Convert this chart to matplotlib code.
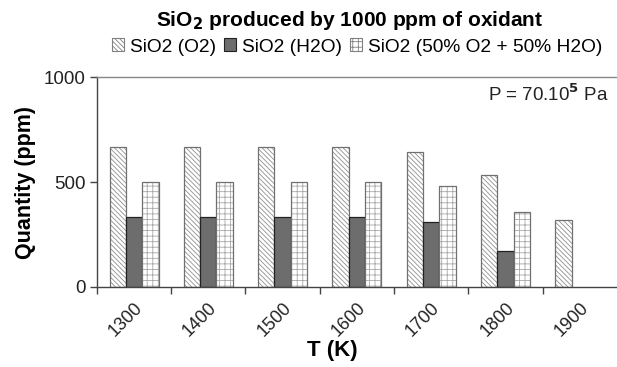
import matplotlib.pyplot as plt
import numpy as np

plt.rcParams['font.family'] = ['Liberation Sans', 'DejaVu Sans']
plt.rcParams['hatch.linewidth'] = 0.6

temps = ['1300', '1400', '1500', '1600', '1700', '1800', '1900']
sio2_o2 = [667, 667, 667, 667, 645, 533, 318]
sio2_h2o = [333, 333, 333, 331, 308, 172, np.nan]
sio2_mix = [500, 500, 500, 499, 479, 355, np.nan]
labels = ['SiO2 (O2)', 'SiO2 (H2O)', 'SiO2 (50% O2 + 50% H2O)']

fig = plt.figure(figsize=(6.17, 3.67), dpi=100)
ax = fig.add_axes([0.157, 0.219, 0.843, 0.570])

x = np.arange(len(temps))
w = 0.22

# hatched fill first, then outline on top
ax.bar(x - w, sio2_o2, w, color='white', edgecolor='#909090', hatch='\\\\\\\\\\\\\\', linewidth=0)
ax.bar(x - w, sio2_o2, w, color='none', edgecolor='#707070', linewidth=0.9)
ax.bar(x, sio2_h2o, w, color='#6d6d6d', edgecolor='#222222', linewidth=0.9)
ax.bar(x + w, sio2_mix, w, color='white', edgecolor='#a8a8a8', hatch='+++', linewidth=0)
ax.bar(x + w, sio2_mix, w, color='none', edgecolor='#707070', linewidth=0.9)

# legend proxies
h1 = plt.Rectangle((0, 0), 1, 1, facecolor='white', edgecolor='#808080', hatch='\\\\\\\\\\\\\\', linewidth=0.8)
h2 = plt.Rectangle((0, 0), 1, 1, facecolor='#6d6d6d', edgecolor='#222222', linewidth=0.8)
h3 = plt.Rectangle((0, 0), 1, 1, facecolor='white', edgecolor='#808080', hatch='+++', linewidth=0.8)
fig.legend([h1, h2, h3], labels, loc='center', bbox_to_anchor=(0.579, 0.872), ncol=3,
           frameon=False, fontsize=13.8, handlelength=0.65, handleheight=0.65,
           handletextpad=0.3, columnspacing=0.4, borderpad=0)

ax.set_xlim(-0.5, 6.5)
ax.set_ylim(0, 1000)
ax.set_yticks([0, 500, 1000])
ax.set_yticklabels(['0', '500', '1000'], fontsize=13.5, color='#222222')
ax.set_xticks(x - 0.5, minor=False)
ax.set_xticklabels([])
ax.set_xticks(x, minor=True)
ax.set_xticklabels(temps, minor=True, rotation=45, ha='right', rotation_mode='anchor',
                   fontsize=13, color='#222222')
ax.tick_params(axis='x', which='minor', length=0, pad=9)
ax.tick_params(axis='x', which='major', length=5, width=1, color='#444444', direction='out')
ax.tick_params(axis='y', length=5, width=1, color='#444444', direction='out', pad=3)

for s in ['left', 'bottom']:
    ax.spines[s].set_color('#444444')
    ax.spines[s].set_linewidth(1)
ax.spines['top'].set_color('#888888')
ax.spines['top'].set_linewidth(1)
ax.spines['right'].set_visible(False)

ax.set_ylabel('Quantity (ppm)', fontsize=15.5, fontweight='bold', labelpad=6)
ax.set_xlabel('T (K)', fontsize=16, fontweight='bold', labelpad=0)
ax.xaxis.set_label_coords(0.452, -0.255)
fig.text(0.567, 0.943, 'SiO$_\\mathbf{2}$ produced by 1000 ppm of oxidant', ha='center', va='center',
         fontsize=15, fontweight='bold')
ax.text(0.985, 0.92, 'P = 70.10$^\\mathbf{5}$ Pa', transform=ax.transAxes, ha='right', va='center',
        fontsize=13.5, color='#222222')

fig.savefig('out.png', dpi=100)
